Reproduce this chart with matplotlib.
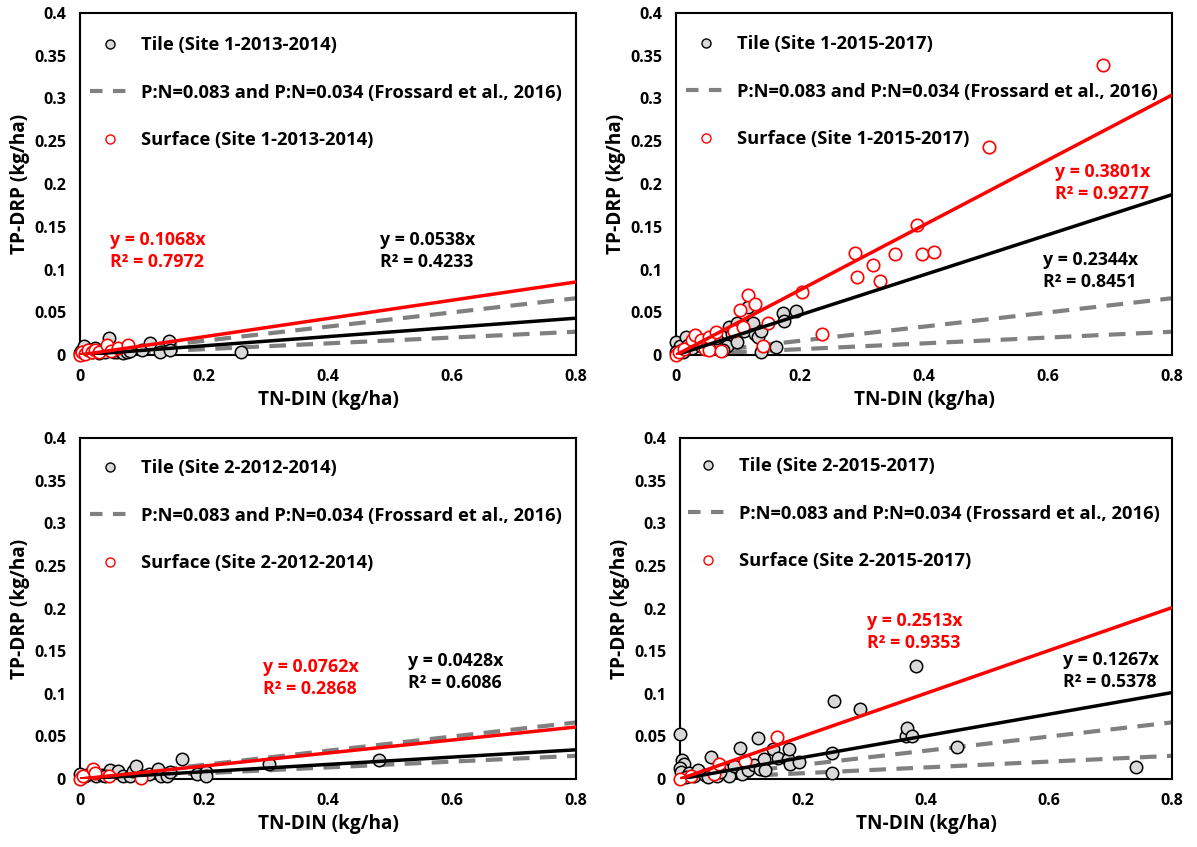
import matplotlib
matplotlib.use("Agg")
import matplotlib.pyplot as plt
from matplotlib.lines import Line2D
import numpy as np

plt.rcParams['font.family'] = ['Open Sans', 'DejaVu Sans']
plt.rcParams['font.weight'] = 'bold'

# ---------------- data ----------------
# Panel A: Site 1 2013-2014
a_tile_x = [0.0, 0.002, 0.004, 0.007, 0.01, 0.015, 0.02, 0.024, 0.03, 0.035, 0.04, 0.047, 0.05, 0.055,
            0.06, 0.065, 0.07, 0.075, 0.08, 0.1, 0.113, 0.129, 0.144, 0.145, 0.26]
a_tile_y = [0.002, 0.005, 0.001, 0.01, 0.004, 0.006, 0.003, 0.008, 0.002, 0.005, 0.004, 0.0196, 0.006, 0.003,
            0.004, 0.005, 0.002, 0.003, 0.005, 0.006, 0.0145, 0.003, 0.016, 0.006, 0.003]
a_surf_x = [0.0, 0.003, 0.008, 0.013, 0.02, 0.024, 0.03, 0.043, 0.05, 0.062, 0.078]
a_surf_y = [0.0, 0.003, 0.001, 0.006, 0.003, 0.006, 0.004, 0.012, 0.005, 0.008, 0.012]
a_slope_tile, a_r2_tile = 0.0538, 0.4233
a_slope_surf, a_r2_surf = 0.1068, 0.7972

# Panel B: Site 1 2015-2017
b_tile_x = [0.0, 0.003, 0.006, 0.01, 0.016, 0.02, 0.025, 0.03, 0.035, 0.04, 0.045, 0.05, 0.06, 0.07,
            0.083, 0.086, 0.09, 0.098, 0.098, 0.105, 0.11, 0.116, 0.12, 0.124, 0.128, 0.132, 0.137, 0.137,
            0.161, 0.173, 0.174, 0.1935, 0.0, 0.012, 0.065, 0.075]
b_tile_y = [0.0156, 0.004, 0.01, 0.006, 0.0215, 0.012, 0.008, 0.02, 0.015, 0.01, 0.018, 0.012, 0.008, 0.015,
            0.011, 0.033, 0.025, 0.038, 0.015, 0.03, 0.028, 0.056, 0.035, 0.038, 0.025, 0.021, 0.0285, 0.004,
            0.009, 0.049, 0.04, 0.051, 0.004, 0.003, 0.02, 0.006]
b_surf_x = [0.0, 0.005, 0.013, 0.026, 0.03, 0.04, 0.046, 0.053, 0.054, 0.0645, 0.073, 0.093, 0.104,
            0.1075, 0.116, 0.127, 0.141, 0.148, 0.203, 0.235, 0.289, 0.292, 0.318, 0.329, 0.354, 0.388,
            0.397, 0.4156, 0.505, 0.689]
b_surf_y = [0.0, 0.004, 0.007, 0.017, 0.023, 0.018, 0.007, 0.021, 0.006, 0.027, 0.005, 0.028, 0.053,
            0.033, 0.0696, 0.06, 0.01, 0.038, 0.0735, 0.025, 0.119, 0.091, 0.1056, 0.087, 0.1185, 0.1525,
            0.1185, 0.12, 0.2436, 0.339]
b_slope_tile, b_r2_tile = 0.2344, 0.8451
b_slope_surf, b_r2_surf = 0.3801, 0.9277

# Panel C: Site 2 2012-2014
c_tile_x = [0.0, 0.003, 0.008, 0.015, 0.025, 0.035, 0.049, 0.04, 0.062, 0.07, 0.08, 0.085, 0.091, 0.1,
            0.112, 0.126, 0.13, 0.14, 0.145, 0.165, 0.189, 0.204, 0.204, 0.305, 0.483]
c_tile_y = [0.0055, 0.002, 0.004, 0.006, 0.003, 0.005, 0.010, 0.003, 0.0095, 0.004, 0.003, 0.0095, 0.015, 0.003,
            0.006, 0.012, 0.003, 0.003, 0.008, 0.024, 0.006, 0.008, 0.003, 0.0175, 0.022]
c_surf_x = [0.0, 0.005, 0.021, 0.0235, 0.046, 0.099]
c_surf_y = [0.0, 0.003, 0.012, 0.007, 0.003, 0.0016]
c_slope_tile, c_r2_tile = 0.0428, 0.6086
c_slope_surf, c_r2_surf = 0.0762, 0.2868

# Panel D: Site 2 2015-2017
d_tile_x = [0.0, 0.004, 0.007, 0.0, 0.002, 0.015, 0.022, 0.03, 0.04, 0.05, 0.06, 0.07, 0.08, 0.088, 0.0976,
            0.1, 0.11, 0.12, 0.127, 0.13, 0.137, 0.138, 0.151, 0.16, 0.175, 0.177, 0.179, 0.193, 0.247,
            0.247, 0.251, 0.293, 0.367, 0.3686, 0.378, 0.384, 0.45, 0.741, 0.01, 0.045, 0.065]
d_tile_y = [0.053, 0.022, 0.018, 0.013, 0.008, 0.007, 0.004, 0.01, 0.005, 0.026, 0.003, 0.012, 0.004, 0.015, 0.036,
            0.006, 0.01, 0.016, 0.048, 0.012, 0.024, 0.0106, 0.035, 0.025, 0.023, 0.035, 0.018, 0.020, 0.031,
            0.0066, 0.092, 0.0817, 0.050, 0.060, 0.050, 0.1325, 0.038, 0.0145, 0.002, 0.002, 0.008]
d_surf_x = [0.0, 0.018, 0.056, 0.064, 0.1057, 0.158]
d_surf_y = [0.0, 0.004, 0.0055, 0.018, 0.0215, 0.0497]
d_slope_tile, d_r2_tile = 0.1267, 0.5378
d_slope_surf, d_r2_surf = 0.2513, 0.9353

ref_slopes = [0.083, 0.034]
x_line = [0.0, 0.8]

panels = [
    dict(tx=a_tile_x, ty=a_tile_y, sx=a_surf_x, sy=a_surf_y, st=a_slope_tile, rt=a_r2_tile,
         ss=a_slope_surf, rs=a_r2_surf, tile_lab="Tile (Site 1-2013-2014)", surf_lab="Surface (Site 1-2013-2014)"),
    dict(tx=b_tile_x, ty=b_tile_y, sx=b_surf_x, sy=b_surf_y, st=b_slope_tile, rt=b_r2_tile,
         ss=b_slope_surf, rs=b_r2_surf, tile_lab="Tile (Site 1-2015-2017)", surf_lab="Surface (Site 1-2015-2017)"),
    dict(tx=c_tile_x, ty=c_tile_y, sx=c_surf_x, sy=c_surf_y, st=c_slope_tile, rt=c_r2_tile,
         ss=c_slope_surf, rs=c_r2_surf, tile_lab="Tile (Site 2-2012-2014)", surf_lab="Surface (Site 2-2012-2014)"),
    dict(tx=d_tile_x, ty=d_tile_y, sx=d_surf_x, sy=d_surf_y, st=d_slope_tile, rt=d_r2_tile,
         ss=d_slope_surf, rs=d_r2_surf, tile_lab="Tile (Site 2-2015-2017)", surf_lab="Surface (Site 2-2015-2017)"),
]

W, H = 1197, 847
fig = plt.figure(figsize=(W / 100, H / 100), dpi=100)

# axes boxes in pixels: left, top, right, bottom
boxes = [(80, 13, 576, 355), (676, 13, 1172, 355), (80, 438, 576, 779), (680, 438, 1172, 779)]
leg_anchor = [(90, 36), (686, 35), (90, 459), (688, 457)]
red_pos = [(110, 251), (1055, 183), (263, 678), (867, 632)]
blk_pos = [(380, 251), (1043, 271), (408, 672), (1063, 671)]

TILE_FILL = '#d9d9d9'
GRAY = '#808080'

for i, (p, box) in enumerate(zip(panels, boxes)):
    l, t, r, b = box
    ax = fig.add_axes([l / W, 1 - b / H, (r - l) / W, (b - t) / H])
    ax.set_xlim(0, 0.8)
    ax.set_ylim(0, 0.4)
    ax.set_xticks([0, 0.2, 0.4, 0.6, 0.8])
    ax.set_xticklabels(['0', '0.2', '0.4', '0.6', '0.8'])
    ax.set_yticks([0, 0.05, 0.1, 0.15, 0.2, 0.25, 0.3, 0.35, 0.4])
    ax.set_yticklabels(['0', '0.05', '0.1', '0.15', '0.2', '0.25', '0.3', '0.35', '0.4'])
    ax.tick_params(length=0, labelsize=11.5, pad=10)
    for lab in ax.get_xticklabels() + ax.get_yticklabels():
        lab.set_fontweight('bold')
    for sp in ax.spines.values():
        sp.set_linewidth(1.5)
        sp.set_color('black')
    ax.set_xlabel('TN-DIN (kg/ha)', fontsize=13.7, fontweight='bold', labelpad=4)
    ax.set_ylabel('TP-DRP (kg/ha)', fontsize=13.7, fontweight='bold', labelpad=3)

    ax.scatter(p['tx'], p['ty'], s=80, facecolor=TILE_FILL, edgecolor='black', linewidth=1.1, zorder=3, clip_on=False)
    ax.scatter(p['sx'], p['sy'], s=80, facecolor='white', edgecolor='red', linewidth=1.2, zorder=4, clip_on=False)
    for k in ref_slopes:
        ax.plot(x_line, [k * x for x in x_line], color=GRAY, lw=3, dashes=(4, 2.5), zorder=2)
    ax.plot(x_line, [p['st'] * x for x in x_line], color='black', lw=2.5, zorder=5)
    ax.plot(x_line, [p['ss'] * x for x in x_line], color='red', lw=2.5, zorder=6)

    handles = [
        Line2D([], [], ls='none', marker='o', ms=6.5, mfc=TILE_FILL, mec='black', mew=1.0),
        Line2D([], [], color=GRAY, lw=3, dashes=(3, 2.5)),
        Line2D([], [], ls='none', marker='o', ms=6.5, mfc='white', mec='red', mew=1.0),
    ]
    labels = [p['tile_lab'], 'P:N=0.083 and P:N=0.034 (Frossard et al., 2016)', p['surf_lab']]
    ax_, ay_ = leg_anchor[i]
    fx = (ax_ - l) / (r - l)
    fy = 1 - (ay_ - t) / (b - t)
    ax.legend(handles, labels, loc='upper left', bbox_to_anchor=(fx, fy), frameon=False,
              borderaxespad=0, borderpad=0, handlelength=2.2, handletextpad=0.6,
              labelspacing=1.62, prop=dict(size=13.2, weight='bold'))

    rx, ry = red_pos[i]
    bx, by = blk_pos[i]
    fig.text(rx / W, 1 - ry / H, f"y = {p['ss']:.4f}x\nR² = {p['rs']:.4f}", color='red',
             fontsize=12.8, fontweight='bold', va='center', ha='left', linespacing=1.25)
    fig.text(bx / W, 1 - by / H, f"y = {p['st']:.4f}x\nR² = {p['rt']:.4f}", color='black',
             fontsize=12.8, fontweight='bold', va='center', ha='left', linespacing=1.25)

fig.savefig('out.png', dpi=100)
